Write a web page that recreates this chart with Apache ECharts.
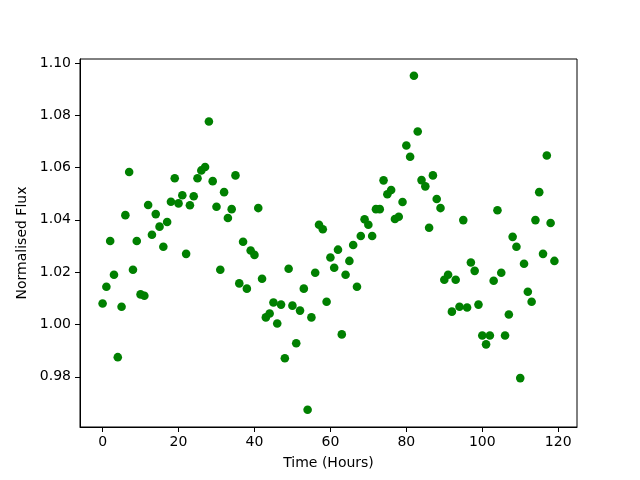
<!DOCTYPE html>
<html>
<head>
<meta charset="utf-8">
<script src="https://cdn.jsdelivr.net/npm/echarts@6/dist/echarts.min.js"></script>
<style>
	html, body { margin: 0; padding: 0; background: #fff; }
	#chart { width: 640px; height: 480px; }
</style>
</head>
<body>
<div id="chart"></div>
<script>
// hours, one reading each
var hours = [];
for (var h = 0; h < 120; h++) hours.push(h);

var flux = [
	1.0080, 1.0144, 1.0319, 1.0190, 0.9875, 1.0068, 1.0418, 1.0583, 1.0209, 1.0319,
	1.0115, 1.0110, 1.0457, 1.0343, 1.0422, 1.0374, 1.0297, 1.0392, 1.0469, 1.0559,
	1.0463, 1.0494, 1.0270, 1.0456, 1.0490, 1.0559, 1.0589, 1.0602, 1.0776, 1.0548,
	1.0450, 1.0209, 1.0506, 1.0407, 1.0441, 1.0570, 1.0157, 1.0316, 1.0137, 1.0283,
	1.0266, 1.0445, 1.0175, 1.0027, 1.0042, 1.0084, 1.0004, 1.0076, 0.9871, 1.0213,
	1.0072, 0.9928, 1.0053, 1.0137, 0.9674, 1.0027, 1.0198, 1.0381, 1.0364, 1.0087,
	1.0256, 1.0217, 1.0286, 0.9962, 1.0190, 1.0243, 1.0304, 1.0144, 1.0338, 1.0402,
	1.0381, 1.0338, 1.0441, 1.0441, 1.0551, 1.0498, 1.0514, 1.0403, 1.0412, 1.0468,
	1.0684, 1.0641, 1.0951, 1.0738, 1.0552, 1.0528, 1.0370, 1.0570, 1.0480, 1.0445,
	1.0171, 1.0190, 1.0049, 1.0171, 1.0068, 1.0399, 1.0065, 1.0237, 1.0205, 1.0076,
	0.9958, 0.9924, 0.9958, 1.0167, 1.0437, 1.0198, 0.9958, 1.0038, 1.0335, 1.0297,
	0.9795, 1.0232, 1.0125, 1.0087, 1.0399, 1.0506, 1.0270, 1.0646, 1.0388, 1.0243
];

var xTicks = [0, 20, 40, 60, 80, 100, 120];
var yTicks = [0.98, 1.00, 1.02, 1.04, 1.06, 1.08, 1.10];

var points = hours.map(function (h, i) { return [h, flux[i]]; });

var font = "DejaVu Sans";
var myChart = echarts.init(document.getElementById("chart"), null, { renderer: "canvas" });
var option = {
	animation: false,
	backgroundColor: "#fff",
	grid: {
		left: 80,
		right: 63,
		top: 59,
		bottom: 53,
		show: true,
		borderColor: "#000",
		borderWidth: 1
	},
	xAxis: {
		type: "value",
		min: -5.95,
		max: 124.95,
		name: "Time (Hours)",
		nameLocation: "middle",
		nameGap: 29,
		nameTextStyle: { fontFamily: font, fontSize: 14, color: "#000" },
		splitLine: { show: false },
		axisLine: { show: true, onZero: false, lineStyle: { color: "#000", width: 1 } },
		axisTick: { show: true, length: 5, customValues: xTicks, lineStyle: { color: "#000" } },
		axisLabel: {
			customValues: xTicks,
			margin: 8,
			fontFamily: font,
			fontSize: 14,
			color: "#000"
		}
	},
	yAxis: {
		type: "value",
		min: 0.9608,
		max: 1.1015,
		name: "Normalised Flux",
		nameLocation: "middle",
		nameGap: 41,
		nameRotate: 90,
		nameTextStyle: { fontFamily: font, fontSize: 14, color: "#000" },
		splitLine: { show: false },
		axisLine: { show: true, onZero: false, lineStyle: { color: "#000", width: 1 } },
		axisTick: { show: true, length: 5, customValues: yTicks, lineStyle: { color: "#000" } },
		axisLabel: {
			customValues: yTicks,
			margin: 9,
			fontFamily: font,
			fontSize: 14,
			color: "#000",
			formatter: function (v) { return v.toFixed(2); }
		}
	},
	series: [
		{
			type: "scatter",
			data: points,
			symbolSize: 8.6,
			itemStyle: { color: "#008000", opacity: 1 }
		}
	]
};
myChart.setOption(option);
window.addEventListener("resize", myChart.resize);
</script>
</body>
</html>
